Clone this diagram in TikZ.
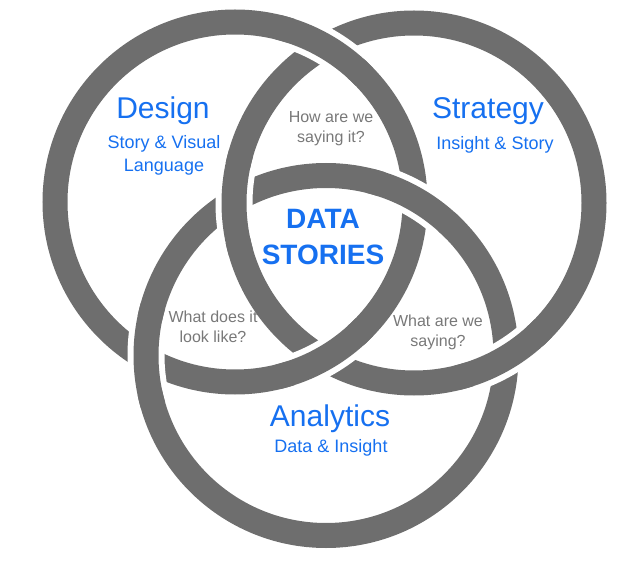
\documentclass[tikz,border=0pt]{standalone}
\usepackage{fontspec}
\setmainfont{Liberation Sans}
\usepackage{xcolor}
\definecolor{ringgray}{RGB}{110,110,110}
\definecolor{storyblue}{RGB}{22,112,240}
\definecolor{askgray}{RGB}{120,120,120}
\tikzset{ring/.style={draw=ringgray,line width=25pt}}
\tikzset{halo/.style={draw=white,line width=37pt}}
\tikzset{title/.style={text=storyblue,font=\fontsize{30}{36}\selectfont}}
\tikzset{subtitle/.style={text=storyblue,align=center,font=\fontsize{18}{23}\selectfont}}
\tikzset{question/.style={text=askgray,align=center,font=\fontsize{16}{20}\selectfont}}

\begin{document}
\begin{tikzpicture}[x=1pt,y=1pt]
  \useasboundingbox (0,0) rectangle (624,566);
  % Rings
  \coordinate (D) at (235,364);
  \coordinate (S) at (414,363);
  \coordinate (A) at (326,210.5);
  \foreach \c in {D,S,A}
    \draw[ring] (\c) circle[radius=180pt];
  % Crossings (D over S, S over A, A over D)
  \foreach \c/\m in {D/60,D/-60,S/180,S/-60,A/60,A/180} {
    \draw[halo] (\c) ++(\m-12:180pt) arc[start angle=\m-12,end angle=\m+12,radius=180pt];
    \draw[ring] (\c) ++(\m-16:180pt) arc[start angle=\m-16,end angle=\m+16,radius=180pt];
  }
  % Labels
  \node[title] (design) at (163,455) {Design};
  \node[subtitle] (designsub) at (164,410.5) {Story \& Visual\\Language};
  \node[title] (strategy) at (488,455) {Strategy};
  \node[subtitle] (strategysub) at (495,421) {Insight \& Story};
  \node[title] (analytics) at (330,147) {Analytics};
  \node[subtitle] (analyticssub) at (331,118) {Data \& Insight};
  \node[question] (how) at (331,437) {How are we\\saying it?};
  \node[question] (look) at (213,239) {What does it\\look like?};
  \node[question] (what) at (438,234) {What are we\\saying?};
  \node[text=storyblue,align=center,font=\bfseries\fontsize{28}{36}\selectfont] (core) at (323,329) {DATA\\STORIES};
\end{tikzpicture}
\end{document}
